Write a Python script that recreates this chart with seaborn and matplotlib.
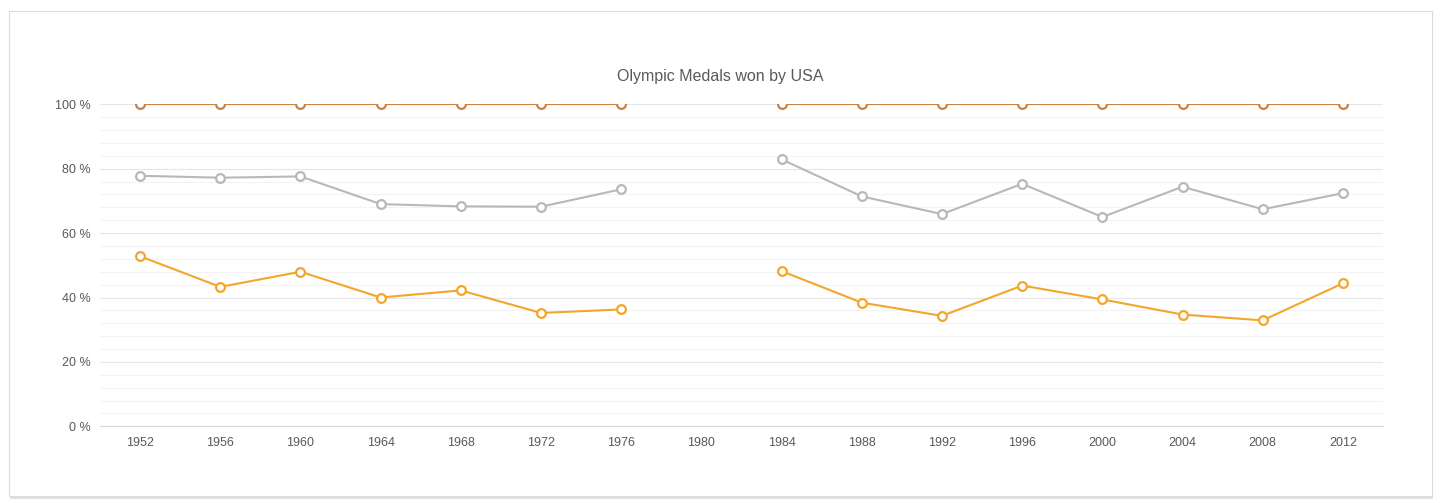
import numpy as np
import pandas as pd
import matplotlib
matplotlib.use('Agg')
import matplotlib.pyplot as plt
from matplotlib.patches import Rectangle
import seaborn as sns

years = [1952, 1956, 1960, 1964, 1968, 1972, 1976, 1980,
         1984, 1988, 1992, 1996, 2000, 2004, 2008, 2012]
# share of medals (%) per type, 1980 boycott -> no data
gold_pct = [52.8, 43.3, 48.0, 40.0, 42.2, 35.2, 36.3, np.nan,
            48.2, 38.4, 34.3, 43.7, 39.4, 34.7, 32.9, 44.4]
silver_pct = [25.0, 33.9, 29.6, 29.0, 26.1, 33.0, 37.3, np.nan,
              34.7, 33.0, 31.6, 31.6, 25.6, 39.7, 34.5, 28.0]
bronze_pct = [100 - g - s for g, s in zip(gold_pct, silver_pct)]

medals = ['Gold', 'Silver', 'Bronze']
colors = {'Gold': '#f4a62a', 'Silver': '#b8b8b8', 'Bronze': '#c98145'}
widths = {'Gold': 1.5, 'Silver': 1.5, 'Bronze': 0.8}

# 100% stacked: cumulative values
stack = np.cumsum(np.array([gold_pct, silver_pct, bronze_pct]), axis=0)
rows = []
for m, vals in zip(medals, stack):
    seg = 0
    for i, (yr, v) in enumerate(zip(years, vals)):
        if np.isnan(v):
            seg += 1
            continue
        rows.append({'medal': m, 'pos': i, 'year': yr, 'value': v, 'seg': seg})
df = pd.DataFrame(rows)

sns.set_style('white')
plt.rcParams['font.family'] = ['Liberation Sans', 'DejaVu Sans']

fig = plt.figure(figsize=(14.4, 5.03), dpi=100)
W, H = 1440, 503

# card with light border and shadow (behind the axes)
fig.patches.append(Rectangle((10 / W, (H - 499) / H), 1423 / W, 487 / H,
                             transform=fig.transFigure, facecolor='#e2e2e2',
                             edgecolor='none', zorder=-3))
fig.patches.append(Rectangle((9 / W, (H - 496) / H), 1423 / W, 485 / H,
                             transform=fig.transFigure, facecolor='white',
                             edgecolor='#dcdcdc', lw=0.8, zorder=-2))

ax = fig.add_axes([100 / W, (H - 426.3) / H, 1283 / W, 322 / H])
ax.set_facecolor('none')

for m in medals:
    sns.lineplot(data=df[df['medal'] == m], x='pos', y='value', units='seg',
                 estimator=None, color=colors[m], lw=widths[m], marker='o',
                 markersize=6.3, markerfacecolor='white',
                 markeredgecolor=colors[m], markeredgewidth=1.6,
                 ax=ax, zorder=3, clip_on=True)

ax.set_xlim(-0.5, len(years) - 0.5)
ax.set_ylim(0, 100)
ax.set_xticks(range(len(years)))
ax.set_xticklabels([str(y) for y in years])
ax.set_xticks(np.arange(-0.5, len(years)), minor=True)
ax.set_yticks(range(0, 101, 20))
ax.set_yticklabels([f'{v} %' for v in range(0, 101, 20)])
ax.set_yticks(range(0, 101, 4), minor=True)
ax.grid(axis='y', which='major', color='#e6e6e6', lw=0.8, zorder=0)
ax.grid(axis='y', which='minor', color='#f3f3f3', lw=0.8, zorder=0)
ax.grid(axis='x', which='both', visible=False)
ax.tick_params(axis='x', which='major', length=0, pad=8, labelsize=9,
               labelcolor='#595959')
ax.tick_params(axis='x', which='minor', length=4, width=0.8, color='#d9d9d9',
               direction='out')
ax.tick_params(axis='y', which='both', length=0, pad=7, labelsize=9,
               labelcolor='#595959')
for s in ['top', 'right', 'left']:
    ax.spines[s].set_visible(False)
ax.spines['bottom'].set_color('#d9d9d9')
ax.spines['bottom'].set_linewidth(0.8)
ax.set_xlabel('')
ax.set_ylabel('')
if ax.get_legend():
    ax.get_legend().remove()

fig.text(0.5, (H - 77) / H, 'Olympic Medals won by USA', ha='center',
         va='center', fontsize=11.5, color='#595959')

fig.savefig('out.png', dpi=100)
